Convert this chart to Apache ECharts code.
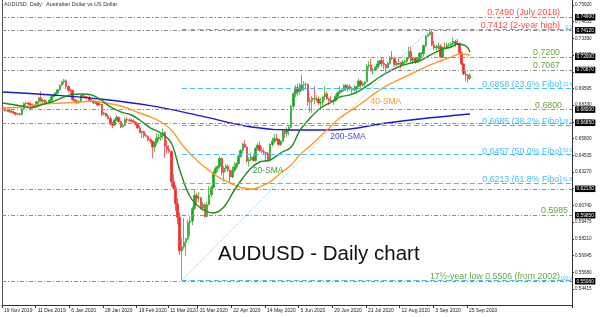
<!DOCTYPE html>
<html><head><meta charset="utf-8">
<script src="https://cdn.jsdelivr.net/npm/echarts@6/dist/echarts.min.js"></script>
<style>html,body{margin:0;padding:0;background:#fff}#c{width:600px;height:317px}</style>
</head><body><div id="c"></div><script>
// ---------- categories ----------
const tradingDays = [
  ['Nov 2019', [19,20,21,22,25,26,27,28,29]],
  ['Dec 2019', [2,3,4,5,6,9,10,11,12,13,16,17,18,19,20,23,24,26,27,30,31]],
  ['Jan 2020', [2,3,6,7,8,9,10,13,14,15,16,17,20,21,22,23,24,27,28,29,30,31]],
  ['Feb 2020', [3,4,5,6,7,10,11,12,13,14,17,18,19,20,21,24,25,26,27,28]],
  ['Mar 2020', [2,3,4,5,6,9,10,11,12,13,16,17,18,19,20,23,24,25,26,27,30,31]],
  ['Apr 2020', [1,2,3,6,7,8,9,10,13,14,15,16,17,20,21,22,23,24,27,28,29,30]],
  ['May 2020', [1,4,5,6,7,8,11,12,13,14,15,18,19,20,21,22,25,26,27,28,29]],
  ['Jun 2020', [1,2,3,4,5,8,9,10,11,12,15,16,17,18,19,22,23,24,25,26,29,30]],
  ['Jul 2020', [1,2,3,6,7,8,9,10,13,14,15,16,17,20,21,22,23,24,27,28,29,30,31]],
  ['Aug 2020', [3,4,5,6,7,10,11,12,13,14,17,18,19,20,21,24,25,26,27,28,31]],
  ['Sep 2020', [1,2,3,4,7,8,9,10,11,14,15,16,17,18,21,22,23,24,25,28]]
];
const xTickLabels = ['19 Nov 2019','11 Dec 2019','6 Jan 2020','28 Jan 2020','19 Feb 2020','11 Mar 2020',
  '31 Mar 2020','22 Apr 2020','14 May 2020','5 Jun 2020','29 Jun 2020','21 Jul 2020','12 Aug 2020','3 Sep 2020','25 Sep 2020'];
const yTickValues = [0.75920,0.74655,0.73390,0.72125,0.70860,0.69595,0.68330,0.67065,0.65800,0.64535,
  0.63270,0.62005,0.60740,0.59475,0.58210,0.56945,0.55680,0.54415];
const emptyBarsRight = 48;

// ---------- daily candles [open, high, low, close] ----------
const candles = [
 // Nov 2019
 [0.6820,0.6828,0.6805,0.6810],[0.6810,0.6815,0.6786,0.6790],[0.6790,0.6808,0.6780,0.6792],[0.6792,0.6810,0.6775,0.6785],
 [0.6785,0.6803,0.6778,0.6780],[0.6780,0.6792,0.6767,0.6775],[0.6775,0.6781,0.6755,0.6765],[0.6765,0.6775,0.6755,0.6768],
 [0.6768,0.6775,0.6755,0.6762],
 // Dec 2019
 [0.6762,0.6815,0.6755,0.6805],[0.6805,0.6855,0.6795,0.6845],[0.6845,0.6862,0.6820,0.6850],[0.6850,0.6856,0.6828,0.6842],
 [0.6842,0.6855,0.6810,0.6830],[0.6830,0.6845,0.6818,0.6826],[0.6826,0.6836,0.6815,0.6822],[0.6822,0.6866,0.6818,0.6860],
 [0.6860,0.6896,0.6845,0.6890],[0.6890,0.6939,0.6855,0.6862],[0.6862,0.6882,0.6850,0.6872],[0.6872,0.6876,0.6838,0.6848],
 [0.6848,0.6866,0.6838,0.6852],[0.6852,0.6880,0.6840,0.6870],[0.6870,0.6905,0.6860,0.6898],[0.6898,0.6916,0.6888,0.6910],
 [0.6910,0.6932,0.6904,0.6925],[0.6925,0.6955,0.6918,0.6950],[0.6950,0.6990,0.6945,0.6984],[0.6984,0.7020,0.6978,0.7010],
 [0.7010,0.7032,0.6992,0.7018],
 // Jan 2020
 [0.7018,0.7030,0.6955,0.6975],[0.6975,0.6985,0.6930,0.6948],[0.6948,0.6958,0.6910,0.6944],[0.6944,0.6950,0.6868,0.6875],
 [0.6875,0.6882,0.6850,0.6866],[0.6866,0.6875,0.6840,0.6852],[0.6852,0.6870,0.6845,0.6862],[0.6862,0.6914,0.6860,0.6908],
 [0.6908,0.6920,0.6894,0.6900],[0.6900,0.6906,0.6884,0.6896],[0.6896,0.6905,0.6880,0.6894],[0.6894,0.6905,0.6860,0.6866],
 [0.6866,0.6880,0.6858,0.6864],[0.6864,0.6874,0.6845,0.6850],[0.6850,0.6870,0.6843,0.6856],[0.6856,0.6860,0.6824,0.6834],
 [0.6834,0.6874,0.6830,0.6840],[0.6840,0.6842,0.6750,0.6764],[0.6764,0.6782,0.6755,0.6772],[0.6772,0.6776,0.6745,0.6750],
 [0.6750,0.6766,0.6725,0.6732],[0.6732,0.6746,0.6682,0.6690],
 // Feb 2020
 [0.6690,0.6706,0.6660,0.6682],[0.6682,0.6730,0.6680,0.6722],[0.6722,0.6760,0.6715,0.6742],[0.6742,0.6746,0.6700,0.6710],
 [0.6710,0.6716,0.6660,0.6670],[0.6670,0.6690,0.6664,0.6680],[0.6680,0.6740,0.6678,0.6725],[0.6725,0.6746,0.6700,0.6722],
 [0.6722,0.6736,0.6704,0.6718],[0.6718,0.6730,0.6705,0.6712],[0.6712,0.6726,0.6700,0.6704],[0.6704,0.6710,0.6680,0.6690],
 [0.6690,0.6700,0.6655,0.6660],[0.6660,0.6680,0.6620,0.6626],[0.6626,0.6640,0.6585,0.6634],[0.6634,0.6640,0.6585,0.6604],
 [0.6604,0.6620,0.6590,0.6598],[0.6598,0.6605,0.6560,0.6572],[0.6572,0.6586,0.6545,0.6560],[0.6560,0.6566,0.6434,0.6516],
 // Mar 2020
 [0.6516,0.6560,0.6480,0.6550],[0.6550,0.6620,0.6530,0.6580],[0.6580,0.6616,0.6560,0.6590],[0.6590,0.6622,0.6565,0.6606],
 [0.6606,0.6656,0.6580,0.6624],[0.6624,0.6636,0.6432,0.6522],[0.6522,0.6570,0.6470,0.6500],[0.6500,0.6530,0.6470,0.6484],
 [0.6484,0.6490,0.6216,0.6254],[0.6254,0.6310,0.6194,0.6206],[0.6206,0.6230,0.6034,0.6086],[0.6086,0.6130,0.5930,0.5984],
 [0.5984,0.6020,0.5700,0.5730],[0.5730,0.5830,0.5506,0.5760],[0.5760,0.5980,0.5745,0.5796],[0.5796,0.5830,0.5690,0.5820],
 [0.5820,0.5966,0.5810,0.5946],[0.5946,0.5992,0.5840,0.5956],[0.5956,0.6066,0.5924,0.6050],[0.6050,0.6190,0.6040,0.6150],
 [0.6150,0.6170,0.6075,0.6130],[0.6130,0.6176,0.6100,0.6132],
 // Apr 2020
 [0.6132,0.6140,0.6040,0.6056],[0.6056,0.6100,0.6030,0.6080],[0.6080,0.6090,0.5980,0.5990],[0.5990,0.6100,0.5985,0.6080],
 [0.6080,0.6220,0.6075,0.6155],[0.6155,0.6225,0.6135,0.6210],[0.6210,0.6336,0.6200,0.6320],[0.6320,0.6370,0.6310,0.6354],
 [0.6354,0.6376,0.6330,0.6370],[0.6370,0.6445,0.6355,0.6430],[0.6430,0.6436,0.6300,0.6326],[0.6326,0.6370,0.6254,0.6356],
 [0.6356,0.6386,0.6330,0.6370],[0.6370,0.6385,0.6330,0.6340],[0.6340,0.6342,0.6254,0.6290],[0.6290,0.6370,0.6280,0.6340],
 [0.6340,0.6400,0.6325,0.6366],[0.6366,0.6400,0.6350,0.6390],[0.6390,0.6456,0.6385,0.6445],[0.6445,0.6500,0.6435,0.6490],
 [0.6490,0.6546,0.6470,0.6540],[0.6540,0.6570,0.6510,0.6516],
 // May 2020
 [0.6516,0.6520,0.6400,0.6410],[0.6410,0.6440,0.6370,0.6420],[0.6420,0.6476,0.6410,0.6440],[0.6440,0.6465,0.6405,0.6414],
 [0.6414,0.6516,0.6405,0.6505],[0.6505,0.6546,0.6490,0.6530],[0.6530,0.6560,0.6480,0.6490],[0.6490,0.6520,0.6470,0.6480],
 [0.6480,0.6506,0.6465,0.6474],[0.6474,0.6480,0.6400,0.6466],[0.6466,0.6480,0.6405,0.6416],[0.6416,0.6546,0.6415,0.6536],
 [0.6536,0.6590,0.6520,0.6560],[0.6560,0.6616,0.6545,0.6580],[0.6580,0.6616,0.6560,0.6576],[0.6576,0.6580,0.6520,0.6536],
 [0.6536,0.6566,0.6525,0.6560],[0.6560,0.6646,0.6555,0.6636],[0.6636,0.6646,0.6585,0.6620],[0.6620,0.6666,0.6595,0.6646],
 [0.6646,0.6686,0.6605,0.6666],
 // Jun 2020
 [0.6666,0.6836,0.6660,0.6826],[0.6826,0.6930,0.6810,0.6920],[0.6920,0.6986,0.6895,0.6966],[0.6966,0.6996,0.6905,0.6936],
 [0.6936,0.7000,0.6910,0.6950],[0.6950,0.7065,0.6940,0.6986],[0.6986,0.7016,0.6940,0.6990],[0.6990,0.7006,0.6950,0.6990],
 [0.6990,0.7000,0.6830,0.6860],[0.6860,0.6890,0.6776,0.6866],[0.6866,0.6900,0.6776,0.6886],[0.6886,0.6976,0.6840,0.6880],
 [0.6880,0.6910,0.6860,0.6880],[0.6880,0.6900,0.6835,0.6850],[0.6850,0.6890,0.6805,0.6856],[0.6856,0.6906,0.6830,0.6896],
 [0.6896,0.6976,0.6870,0.6920],[0.6920,0.6940,0.6875,0.6880],[0.6880,0.6890,0.6835,0.6870],[0.6870,0.6900,0.6855,0.6864],
 [0.6864,0.6876,0.6835,0.6866],[0.6866,0.6916,0.6860,0.6900],
 // Jul 2020
 [0.6900,0.6936,0.6875,0.6926],[0.6926,0.6976,0.6915,0.6936],[0.6936,0.6960,0.6930,0.6946],[0.6946,0.6990,0.6935,0.6986],
 [0.6986,0.6990,0.6940,0.6956],[0.6956,0.6990,0.6935,0.6976],[0.6976,0.6990,0.6945,0.6956],[0.6956,0.6970,0.6920,0.6950],
 [0.6950,0.6986,0.6940,0.6956],[0.6956,0.6976,0.6920,0.6974],[0.6974,0.7036,0.6970,0.7016],[0.7016,0.7026,0.6965,0.6986],
 [0.6986,0.7010,0.6975,0.6996],[0.6996,0.7016,0.6975,0.7010],[0.7010,0.7146,0.7010,0.7130],[0.7130,0.7166,0.7105,0.7136],
 [0.7136,0.7186,0.7090,0.7092],[0.7092,0.7116,0.7065,0.7100],[0.7100,0.7130,0.7090,0.7120],[0.7120,0.7170,0.7110,0.7146],
 [0.7146,0.7176,0.7130,0.7170],[0.7170,0.7196,0.7120,0.7150],[0.7150,0.7186,0.7105,0.7140],
 // Aug 2020
 [0.7140,0.7146,0.7080,0.7116],[0.7116,0.7166,0.7110,0.7150],[0.7150,0.7206,0.7140,0.7190],[0.7190,0.7243,0.7175,0.7186],
 [0.7186,0.7196,0.7125,0.7140],[0.7140,0.7170,0.7130,0.7150],[0.7150,0.7186,0.7140,0.7146],[0.7146,0.7160,0.7110,0.7144],
 [0.7144,0.7176,0.7130,0.7160],[0.7160,0.7176,0.7145,0.7166],[0.7166,0.7200,0.7150,0.7190],[0.7190,0.7276,0.7180,0.7240],
 [0.7240,0.7276,0.7160,0.7170],[0.7170,0.7196,0.7145,0.7190],[0.7190,0.7200,0.7145,0.7160],[0.7160,0.7190,0.7155,0.7180],
 [0.7180,0.7236,0.7175,0.7226],[0.7226,0.7236,0.7190,0.7224],[0.7224,0.7290,0.7200,0.7286],[0.7286,0.7366,0.7270,0.7356],
 [0.7356,0.7376,0.7350,0.7370],
 // Sep 2020
 [0.7370,0.7413,0.7360,0.7386],[0.7386,0.7396,0.7280,0.7290],[0.7290,0.7320,0.7250,0.7266],[0.7266,0.7290,0.7245,0.7276],
 [0.7276,0.7306,0.7255,0.7280],[0.7280,0.7296,0.7190,0.7196],[0.7196,0.7276,0.7190,0.7270],[0.7270,0.7310,0.7255,0.7266],
 [0.7266,0.7306,0.7260,0.7286],[0.7286,0.7306,0.7270,0.7290],[0.7290,0.7310,0.7270,0.7300],[0.7300,0.7345,0.7285,0.7316],
 [0.7316,0.7326,0.7275,0.7296],[0.7296,0.7336,0.7285,0.7300],[0.7300,0.7310,0.7220,0.7230],[0.7230,0.7240,0.7135,0.7146],
 [0.7146,0.7150,0.7060,0.7070],[0.7070,0.7096,0.7015,0.7060],[0.7060,0.7070,0.7005,0.7036],[0.7036,0.7076,0.7025,0.7060]
];

// ---------- moving averages (bar number, value) ----------
const sma20Bars   = [0,9,13,18,23,28,32,37,42,46,51,56,61,65,70,75,80,84,89,94,100,105,110,114,118,122,127,132,137,141,146,151,156,160,165,170,175,179,184,189,194,198,203,208,213,216,220,222];
const sma20Values = [0.6850,0.6827,0.6812,0.6835,0.6857,0.6888,0.6911,0.6918,0.6911,0.6880,0.6820,0.6782,0.6759,0.6721,0.6661,0.6623,0.6547,0.6343,0.6138,0.6055,0.6017,0.6062,0.6191,0.6282,0.6358,0.6403,0.6418,0.6471,0.6517,0.6638,0.6736,0.6812,0.6857,0.6895,0.6911,0.6948,0.7001,0.7047,0.7092,0.7130,0.7153,0.7168,0.7213,0.7251,0.7274,0.7297,0.7282,0.7236];
const sma40Bars   = [0,9,18,28,37,42,46,56,65,70,75,80,86,93,99,103,110,114,119,122,127,132,137,141,146,151,156,160,165,170,175,179,184,189,194,198,203,208,213,217,222];
const sma40Values = [0.6812,0.6820,0.6842,0.6850,0.6857,0.6865,0.6857,0.6827,0.6774,0.6744,0.6706,0.6645,0.6517,0.6403,0.6327,0.6282,0.6229,0.6206,0.6199,0.6214,0.6252,0.6320,0.6380,0.6456,0.6524,0.6600,0.6676,0.6736,0.6789,0.6842,0.6903,0.6948,0.6994,0.7032,0.7070,0.7100,0.7138,0.7168,0.7198,0.7221,0.7213];
const sma200Bars   = [0,23,46,70,94,118,137,151,165,179,198,222];
const sma200Values = [0.6933,0.6911,0.6880,0.6830,0.6752,0.6668,0.6645,0.6645,0.6653,0.6691,0.6729,0.6767];

// ---------- horizontal levels & Fibonacci ----------
const levelValues = [0.7490,0.7412,0.7200,0.7067,0.6800,0.6685,0.6213,0.5985,0.5506];
const levelNotes  = ['0.7490 (July 2018)','0.7412 (2-year high)','0.7200','0.7067','0.6800','','','0.5985','17½-year low 0.5506 (from 2002)'];
const fibStartDate = '19 Mar 2020';
const fibEndDate   = '1 Sep 2020';
const fibLow = 0.5506, fibHigh = 0.7413;
const fibLevelValues = [0.7412,0.6962,0.6685,0.6459,0.6240,0.5506];
const fibPctLabels   = ['0.0','23.6','38.2','50.0','61.8','100.0'];
const fibNotes       = ['','0.6858 (23.6% Fibo)','0.6685 (38.2% Fibo)','0.6457 (50.0% Fibo)','0.6213 (61.8% Fibo)',''];

// ---------- build ----------
const dates = [];
tradingDays.forEach(([m, days]) => { const [mon, yr] = m.split(' '); days.forEach(d => dates.push(d + ' ' + mon + ' ' + yr)); });
const categories = dates.concat(Array.from({length: emptyBarsRight}, (_, i) => 'next ' + (i + 1)));
const lastCat = categories[categories.length - 1];
const candleData = candles.map(r => [r[0], r[3], r[2], r[1]]);
const pairs = (bars, vals) => bars.map((b, i) => [dates[b], vals[i]]);

const FONT = 'Liberation Sans, Arial, sans-serif';
const RED = '#ff4b4b', GREEN = '#6aa63a', CYAN = '#45bdf0';
const noteColor = [RED, RED, GREEN, GREEN, GREEN, GREEN, GREEN, GREEN, GREEN];
const notePadRight = [12, 12, 12, 12, 10, 0, 0, 4, 12];

const chart = echarts.init(document.getElementById('c'), null, {renderer: 'canvas'});
const tickShow = (i, v) => xTickLabels.indexOf(v) >= 0;

function smaLabel(text, bar, value, color) {
  return {symbol: 'rect', symbolSize: 1, itemStyle: {color: 'rgba(0,0,0,0)'}, silent: true, animation: false,
    data: [{coord: [dates[bar], value], label: {show: true, position: 'inside', formatter: text, color: color, fontSize: 8.5, fontFamily: FONT}}]};
}

chart.setOption({
  animation: false,
  backgroundColor: '#fff',
  grid: {left: 2, right: 28, top: 0, bottom: 12},
  xAxis: {
    type: 'category', data: categories, boundaryGap: true,
    axisLine: {show: true, lineStyle: {color: '#333', width: 1}},
    axisTick: {show: true, interval: tickShow, length: 3, lineStyle: {color: '#333'}},
    axisLabel: {interval: tickShow, fontSize: 5.0, color: '#222', fontFamily: FONT, align: 'left', margin: 3, padding: [0,0,0,1]},
    splitLine: {show: false}
  },
  yAxis: [{
    type: 'value', position: 'right', min: 0.5320, max: 0.7630, scale: true,
    axisLine: {show: true, lineStyle: {color: '#333', width: 1}},
    axisTick: {show: true, customValues: yTickValues, length: 2, lineStyle: {color: '#333'}},
    axisLabel: {customValues: yTickValues, formatter: v => v.toFixed(5), fontSize: 4.6, color: '#222', fontFamily: FONT, margin: 3},
    splitLine: {show: false}
  }, {
    type: 'value', position: 'left', min: 0.5320, max: 0.7630, scale: true,
    axisLine: {show: true, lineStyle: {color: '#555', width: 1}},
    axisTick: {show: false}, axisLabel: {show: false}, splitLine: {show: false}
  }],
  graphic: [
    {type: 'text', left: 4, top: 2, style: {text: 'AUDUSD, Daily:  Australian Dollar vs US Dollar', font: '5.4px ' + FONT, fill: '#333'}},
    {type: 'text', left: 218, top: 244, style: {text: 'AUDUSD - Daily chart', font: '20.5px ' + FONT, fill: '#111'}}
  ],
  series: [
    { // gray dash-dot levels with notes
      type: 'line', name: 'levels', data: [], silent: true,
      markLine: {
        symbol: ['none','none'], silent: true, animation: false,
        lineStyle: {color: '#8e8e8e', type: [4,2,1,2], width: 1},
        data: levelValues.map((v, i) => ({
          yAxis: v,
          label: {show: levelNotes[i] !== '', position: 'insideEndTop', formatter: levelNotes[i], color: noteColor[i],
            fontSize: 8.8, fontFamily: FONT, distance: 0, padding: [0, notePadRight[i], 0, 0]}
        }))
      }
    },
    { // Fibonacci retracement levels
      type: 'line', name: 'fibo', data: [], silent: true,
      markLine: {
        symbol: ['none','none'], silent: true, animation: false,
        lineStyle: {color: CYAN, type: [5,3], width: 1},
        data: fibLevelValues.map((v, i) => [
          {coord: [fibStartDate, v], label: {show: true, position: 'insideEndTop', distance: -1,
            formatter: (fibNotes[i] ? '{a|' + fibNotes[i] + '}' : '') + '{b|' + fibPctLabels[i] + '}',
            rich: {a: {fontSize: 8.8, color: CYAN, fontFamily: FONT}, b: {fontSize: 4.6, color: CYAN, fontFamily: FONT, padding: [0,0,0,1]}}}},
          {coord: [lastCat, v]}
        ]).concat([[
          {coord: [fibStartDate, fibLow], lineStyle: {color: '#79cdf2', type: [1,1], width: 1}, label: {show: false}},
          {coord: [fibEndDate, fibHigh]}
        ]])
      }
    },
    {
      type: 'candlestick', name: 'AUDUSD', data: candleData, barWidth: 2,
      itemStyle: {color: '#1fa51f', color0: '#f72424', borderColor: '#2fae2f', borderColor0: '#f73a3a', borderWidth: 0.8}
    },
    {
      type: 'line', name: '200-SMA', data: pairs(sma200Bars, sma200Values), smooth: 0.4, symbol: 'none',
      lineStyle: {color: '#1a1ac8', width: 1.4}, markPoint: smaLabel('200-SMA', 164, 0.6593, '#4a4ad2')
    },
    {
      type: 'line', name: '40-SMA', data: pairs(sma40Bars, sma40Values), smooth: 0.35, symbol: 'none',
      lineStyle: {color: '#ff9a22', width: 1.4}, markPoint: smaLabel('40-SMA', 182, 0.6857, '#f79a2e')
    },
    {
      type: 'line', name: '20-SMA', data: pairs(sma20Bars, sma20Values), smooth: 0.35, symbol: 'none',
      lineStyle: {color: '#1c8c1c', width: 1.4}, markPoint: smaLabel('20-SMA', 126, 0.6335, '#3a9a3a')
    },
    { // black price boxes on the axis (drawn last so they sit on top of the tick labels)
      type: 'line', name: 'levelBoxes', data: [], silent: true, z: 10,
      markLine: {
        symbol: ['none','none'], silent: true, animation: false, z: 10,
        lineStyle: {color: 'rgba(0,0,0,0)', width: 1},
        data: levelValues.map(v => ({
          yAxis: v,
          label: {show: true, position: 'end', formatter: v.toFixed(5), color: '#fff', backgroundColor: '#000',
            fontSize: 4.8, fontFamily: FONT, padding: [1, 1.5, 0.5, 1.5], distance: 3}
        }))
      }
    }
  ]
});
</script></body></html>
